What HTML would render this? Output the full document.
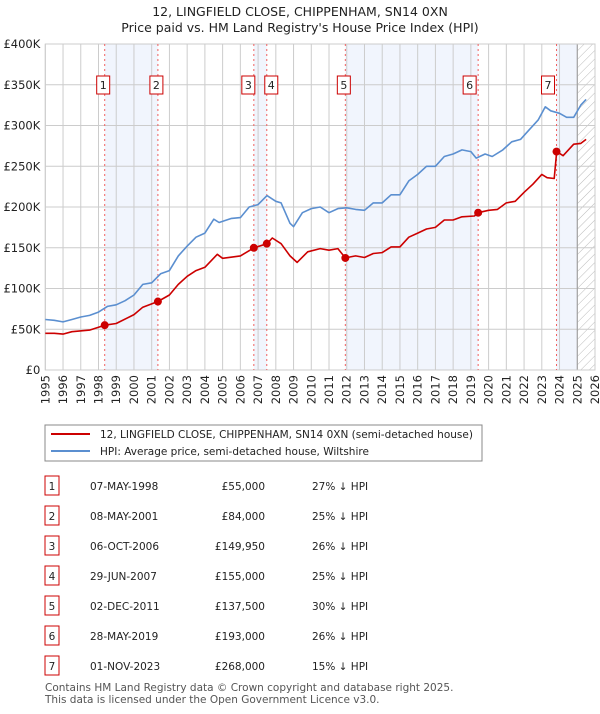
<!DOCTYPE html>
<html><head><meta charset="utf-8"><style>
body{margin:0;background:#fff;font-family:"DejaVu Sans","Liberation Sans",sans-serif;}
svg text{font-family:"DejaVu Sans","Liberation Sans",sans-serif;}
</style></head><body>
<svg id="chart" width="600" height="710" viewBox="0 0 600 710" xmlns="http://www.w3.org/2000/svg">
<defs><pattern id="hatch" patternUnits="userSpaceOnUse" width="6" height="6" patternTransform="rotate(45)"><line x1="0" y1="0" x2="0" y2="6" stroke="#bbb" stroke-width="1"/></pattern></defs>
<text x="300" y="16" text-anchor="middle" font-size="12.5" fill="#222">12, LINGFIELD CLOSE, CHIPPENHAM, SN14 0XN</text>
<text x="300" y="32" text-anchor="middle" font-size="12.5" fill="#222">Price paid vs. HM Land Registry's House Price Index (HPI)</text>
<g id="plot"></g>
<rect x="45" y="425" width="437" height="36" fill="#fff" stroke="#888"/>
<line x1="51" y1="434" x2="90" y2="434" stroke="#cc0000" stroke-width="2"/>
<text x="100" y="438" font-size="10.5" fill="#222">12, LINGFIELD CLOSE, CHIPPENHAM, SN14 0XN (semi-detached house)</text>
<line x1="51" y1="451" x2="90" y2="451" stroke="#5b8fd0" stroke-width="2"/>
<text x="100" y="455" font-size="10.5" fill="#222">HPI: Average price, semi-detached house, Wiltshire</text>
<g id="table"></g>
<text x="45" y="691" font-size="10.5" fill="#555">Contains HM Land Registry data © Crown copyright and database right 2025.</text>
<text x="45" y="703" font-size="10.5" fill="#555">This data is licensed under the Open Government Licence v3.0.</text>
</svg>
<script>
const hpiYears=[1995,1995.5,1996,1996.5,1997,1997.5,1998,1998.5,1999,1999.5,2000,2000.5,2001,2001.5,2002,2002.5,2003,2003.5,2004,2004.5,2004.8,2005.5,2006,2006.5,2007,2007.5,2008,2008.3,2008.8,2009,2009.5,2010,2010.5,2011,2011.5,2012,2012.5,2013,2013.5,2014,2014.5,2015,2015.5,2016,2016.5,2017,2017.5,2018,2018.5,2019,2019.3,2019.8,2020.2,2020.8,2021.3,2021.8,2022.3,2022.8,2023.2,2023.5,2024,2024.4,2024.8,2025.2,2025.5];
const hpiValues=[62,61,59,62,65,67,71,78,80,85,92,105,107,118,122,140,152,163,168,185,181,186,187,200,203,214,207,205,180,176,193,198,200,193,198,199,197,196,205,205,215,215,232,240,250,250,262,265,270,268,260,265,262,270,280,283,295,307,323,318,315,310,310,325,332];
const propYears=[1995,1995.5,1996,1996.5,1997.5,1998.35,1999,2000,2000.5,2001.35,2002,2002.5,2003,2003.5,2004,2004.7,2005,2006,2006.77,2007.5,2007.8,2008.3,2008.8,2009.2,2009.8,2010.5,2011,2011.5,2011.92,2012.5,2013,2013.5,2014,2014.5,2015,2015.5,2016,2016.5,2017,2017.5,2018,2018.5,2019.2,2019.41,2020,2020.5,2021,2021.5,2022,2022.5,2023,2023.3,2023.7,2023.84,2024.2,2024.8,2025.2,2025.5];
const propValues=[45,45,44,47,49,55,57,68,77,84,92,105,115,122,126,142,137,140,150,155,162,155,140,132,145,149,147,149,137.5,140,138,143,144,151,151,163,168,173,175,184,184,188,189,193,196,197,205,207,218,228,240,236,235,268,263,277,278,283];
const saleLabels=["1","2","3","4","5","6","7"];
const saleYears=[1998.35,2001.35,2006.76,2007.49,2011.92,2019.41,2023.83];
const saleValues=[55,84,149.95,155,137.5,193,268];
const saleDates=["07-MAY-1998","08-MAY-2001","06-OCT-2006","29-JUN-2007","02-DEC-2011","28-MAY-2019","01-NOV-2023"];
const salePrices=["£55,000","£84,000","£149,950","£155,000","£137,500","£193,000","£268,000"];
const saleHpi=["27% ↓ HPI","25% ↓ HPI","26% ↓ HPI","25% ↓ HPI","30% ↓ HPI","26% ↓ HPI","15% ↓ HPI"];
const yTicks=[0,50,100,150,200,250,300,350,400];
const yTickLabels=["£0","£50K","£100K","£150K","£200K","£250K","£300K","£350K","£400K"];
const xTicks=[1995,1996,1997,1998,1999,2000,2001,2002,2003,2004,2005,2006,2007,2008,2009,2010,2011,2012,2013,2014,2015,2016,2017,2018,2019,2020,2021,2022,2023,2024,2025,2026];

const X0=45.3,X1=595,Y0=370,Y1=44;
const xs=v=>X0+(v-1995)/(2026-1995)*(X1-X0);
const ys=v=>Y0-v/400*(Y0-Y1);
const NS="http://www.w3.org/2000/svg";
function mk(p,t,a){const e=document.createElementNS(NS,t);for(const k in a)e.setAttribute(k,a[k]);p.appendChild(e);return e;}
const plot=document.getElementById('plot');
// shaded spans
const spans=[[0,1],[2,3],[4,5],[6,null]];
spans.forEach(s=>{const a=xs(saleYears[s[0]]);const b=s[1]===null?xs(2025):xs(saleYears[s[1]]);
const r=mk(plot,'rect',{x:a,y:Y1,width:b-a,height:Y0-Y1,fill:'#eef3fc',opacity:0.8});

});
const h=mk(plot,'rect',{x:xs(2025),y:Y1,width:X1-xs(2025),height:Y0-Y1,fill:'url(#hatch)'});


xTicks.forEach(t=>{const l=mk(plot,'line',{x1:xs(t),x2:xs(t),y1:Y1,y2:Y0,stroke:'#ccc','stroke-width':1});


const tx=mk(plot,'text',{x:0,y:0,'font-size':11.5,fill:'#222','text-anchor':'end',transform:`translate(${xs(t)+4},${Y0+5}) rotate(-90)`});tx.textContent=t;

});
yTicks.forEach((t,i)=>{const l=mk(plot,'line',{x1:X0,x2:X1,y1:ys(t),y2:ys(t),stroke:'#ccc','stroke-width':1});


const tx=mk(plot,'text',{x:X0-5,y:ys(t)+4,'font-size':11.5,fill:'#222','text-anchor':'end'});tx.textContent=yTickLabels[i];

});
const ax=mk(plot,'line',{x1:xs(2025),x2:xs(2025),y1:Y1,y2:Y0,stroke:'#999','stroke-width':1});


mk(plot,'rect',{x:X0,y:Y1,width:X1-X0,height:Y0-Y1,fill:'none',stroke:'#ccc'});
saleYears.forEach((yr,i)=>{const x=xs(yr);
const l=mk(plot,'line',{x1:x,x2:x,y1:Y1,y2:Y0,stroke:'#f06060','stroke-width':1,'stroke-dasharray':'2,3'});


let bx=x-8; if(i===2)bx=x-12; if(i===3)bx=x-2; if(i===5||i===6)bx=x-15;
const r=mk(plot,'rect',{x:bx,y:76,width:13,height:18,fill:'#fff',stroke:'#cc0000','stroke-width':1});


const t=mk(plot,'text',{x:bx+6.5,y:89,'font-size':11,fill:'#222','text-anchor':'middle'});t.textContent=saleLabels[i];

});
function line(xa,va,col,name){const d=xa.map((x,i)=>(i?'L':'M')+xs(x).toFixed(1)+','+ys(va[i]).toFixed(1)).join('');
const p=mk(plot,'path',{d:d,fill:'none',stroke:col,'stroke-width':1.6,'stroke-linejoin':'round'});

}
line(hpiYears,hpiValues,'#5b8fd0','hpi-line');
line(propYears,propValues,'#cc0000','property-price-line');
saleYears.forEach((yr,i)=>{const c=mk(plot,'circle',{cx:xs(yr),cy:ys(saleValues[i]),r:4,fill:'#cc0000'});

});
const tb=document.getElementById('table');
saleLabels.forEach((s,i)=>{const y=476+i*30;
const r=mk(tb,'rect',{x:45,y:y,width:14,height:19,fill:'#fff',stroke:'#cc0000'});


const cells=[[52,s,'middle'],[90,saleDates[i],'start'],[265,salePrices[i],'end'],[312,saleHpi[i],'start']];
cells.forEach(c=>{const t=mk(tb,'text',{x:c[0],y:y+14,'font-size':10.5,fill:'#222','text-anchor':c[2]});t.textContent=c[1];

});});
</script>
</body></html>
